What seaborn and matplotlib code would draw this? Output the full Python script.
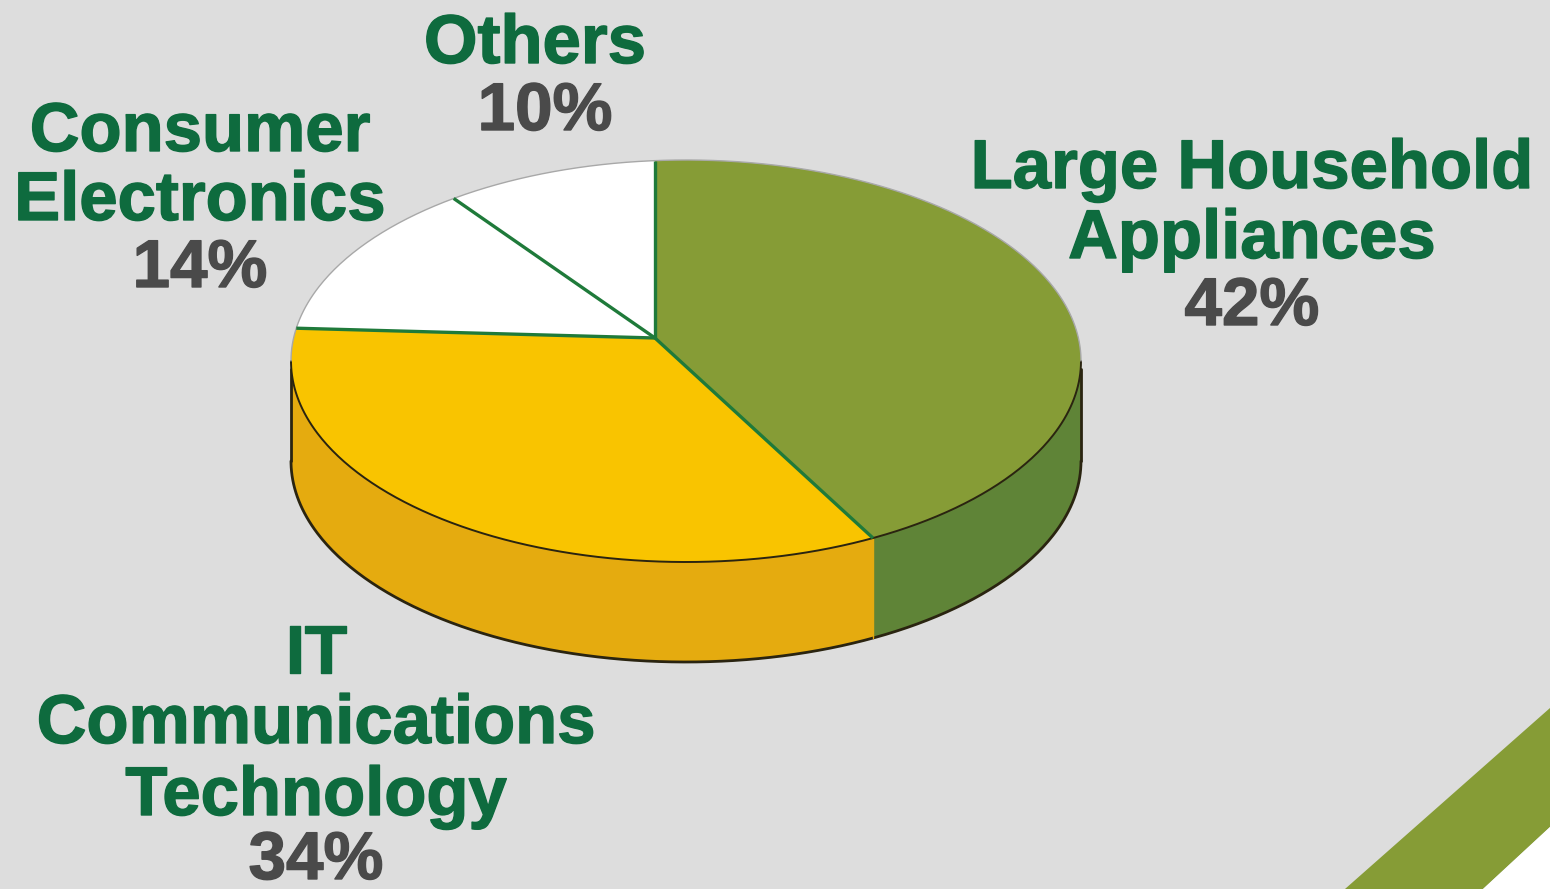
import numpy as np
import seaborn as sns
import matplotlib.pyplot as plt
import matplotlib.patheffects as pe

# slices clockwise from the top of the disc
categories = ['Large Household\nAppliances', 'IT\nCommunications\nTechnology', 'Consumer\nElectronics', 'Others']
shares = [42, 34, 14, 10]
top_colors = ['#869C36', '#F9C400', '#FFFFFF', '#FFFFFF']
wall_colors = ['#5F8437', '#E5AB0F', '#FFFFFF', '#FFFFFF']

GREEN = '#0E6B3E'
GREY = '#4A4A4A'
LINE = '#1F7A3A'

# disc geometry in picture pixels
cx, cy, rx, ry = 686, 361, 395, 201
apex = np.array([(655 - cx) / rx, (cy - 338) / ry])
depth = 100

sns.set_theme(style='white')
plt.rcParams['font.family'] = ['Liberation Sans', 'DejaVu Sans']
plt.rcParams['font.weight'] = 'bold'


def boost(xy, p):
    # projective map of the unit disc onto itself, moves the centre to p
    v = np.hypot(*p)
    u = p / v
    w = np.array([-u[1], u[0]])
    a = xy @ u
    b = xy @ w
    d = 1 + v * a
    return np.outer((a + v) / d, u) + np.outer(b * np.sqrt(1 - v ** 2) / d, w)


def to_px(xy):
    return cx + rx * xy[:, 0], cy - ry * xy[:, 1]


# the first slice starts at the point right above the apex
start_pt = np.array([[apex[0], np.sqrt(1 - apex[0] ** 2)]])
start_src = boost(start_pt, -apex)[0]
start = np.arctan2(start_src[0], start_src[1])
edges = start + 2 * np.pi * np.concatenate([[0], np.cumsum(shares)]) / sum(shares)


def arc(t0, t1):
    t = np.linspace(t0, t1, 200)
    return boost(np.column_stack([np.sin(t), np.cos(t)]), apex)


fig, ax = plt.subplots(figsize=(15.5, 8.89), dpi=100)
fig.patch.set_facecolor('#DDDDDD')
ax.set_position([0, 0, 1, 1])
ax.set_xlim(0, 1550)
ax.set_ylim(889, 0)
ax.axis('off')

# corner stripe
ax.fill([1345, 1550, 1550, 1483], [889, 708, 827, 889], color='#869C36', lw=0, zorder=1)
ax.fill([1483, 1550, 1550], [889, 827, 889], color='white', lw=0, zorder=1)

# wall of the disc, only the front half shows
for i in range(len(shares)):
    pts = arc(edges[i], edges[i + 1])
    pts = pts[pts[:, 1] <= 0]
    if len(pts) == 0:
        continue
    x, y = to_px(pts)
    ax.fill(np.r_[x, x[::-1]], np.r_[y, y[::-1] + depth], color=wall_colors[i], lw=0, zorder=2)
t = np.linspace(np.pi / 2, 3 * np.pi / 2, 300)
xf = cx + rx * np.sin(t)
yf = cy - ry * np.cos(t)
ax.plot(xf, yf + depth, color='#2A2410', lw=2, zorder=3)
ax.plot([cx + rx] * 2, [cy + 8, cy + depth], color='#2A2410', lw=2, zorder=3)
ax.plot([cx - rx] * 2, [cy + 8, cy + depth], color='#2A2410', lw=2, zorder=3)
bx, by = to_px(arc(edges[1], edges[1])[:1])
ax.plot([bx[0], bx[0]], [by[0], by[0] + depth], color='#E5AB0F', lw=1, zorder=3)

# top face
ax_, ay_ = cx + rx * apex[0], cy - ry * apex[1]
for i in range(len(shares)):
    x, y = to_px(arc(edges[i], edges[i + 1]))
    ax.fill(np.r_[ax_, x], np.r_[ay_, y], color=top_colors[i], lw=0, zorder=4)
ax.plot(xf, yf, color='#2A2410', lw=1.4, zorder=5)
tb = np.linspace(-np.pi / 2, np.pi / 2, 300)
ax.plot(cx + rx * np.sin(tb), cy - ry * np.cos(tb), color='#A8A8A8', lw=1, zorder=5)
for e in edges[:-1]:
    x, y = to_px(arc(e, e)[:1])
    ax.plot([ax_, x[0]], [ay_, y[0]], color=LINE, lw=2.4, zorder=6, solid_capstyle='butt')

# labels, one line at a time because the leading differs
size = 49.6
label_y = [[170, 240], [655, 725, 797], [133, 202], [45]]
label_x = [1252, 316, 200, 535]
pct_pos = [(1252, 308), (316, 862), (200, 270), (545, 113)]
for i, name in enumerate(categories):
    for line, y in zip(name.split('\n'), label_y[i]):
        ax.text(label_x[i], y, line, color=GREEN, fontsize=size, fontweight='bold', ha='center', va='center',
                zorder=7, path_effects=[pe.withStroke(linewidth=1, foreground=GREEN)])
    ax.text(pct_pos[i][0], pct_pos[i][1], f'{shares[i]}%', color=GREY, fontsize=48.5, fontweight='bold', ha='center',
            va='center', zorder=7, path_effects=[pe.withStroke(linewidth=1, foreground=GREY)])

fig.savefig('out.png', dpi=100, facecolor=fig.get_facecolor())
